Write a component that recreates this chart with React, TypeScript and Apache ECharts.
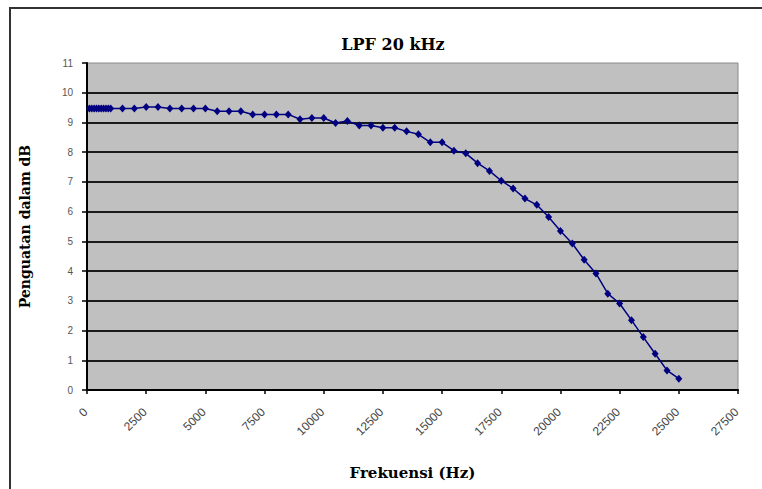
import React, { useEffect, useRef } from "react";
import * as echarts from "echarts";

const titleText = "LPF 20 kHz";
const xAxisName = "Frekuensi (Hz)";
const yAxisName = "Penguatan dalam dB";

const freqHz = [
  100, 200, 300, 400, 500, 600, 700, 800, 900, 1000,
  1500, 2000, 2500, 3000, 3500, 4000, 4500, 5000, 5500, 6000,
  6500, 7000, 7500, 8000, 8500, 9000, 9500, 10000, 10500, 11000,
  11500, 12000, 12500, 13000, 13500, 14000, 14500, 15000, 15500, 16000,
  16500, 17000, 17500, 18000, 18500, 19000, 19500, 20000, 20500, 21000,
  21500, 22000, 22500, 23000, 23500, 24000, 24500, 25000,
];

const gainDb = [
  9.47, 9.47, 9.47, 9.47, 9.47, 9.47, 9.47, 9.47, 9.47, 9.47,
  9.47, 9.47, 9.52, 9.52, 9.47, 9.47, 9.47, 9.47, 9.38, 9.38,
  9.38, 9.27, 9.27, 9.27, 9.27, 9.11, 9.15, 9.15, 8.98, 9.05,
  8.9, 8.9, 8.82, 8.82, 8.7, 8.6, 8.33, 8.33, 8.05, 7.96,
  7.63, 7.37, 7.04, 6.78, 6.44, 6.23, 5.82, 5.35, 4.93, 4.38,
  3.92, 3.24, 2.91, 2.35, 1.78, 1.22, 0.66, 0.38,
];

const xMin = 0;
const xMax = 27500;
const xStep = 2500;
const yMin = 0;
const yMax = 11;
const yStep = 1;

export default function App() {
  const ref = useRef<HTMLDivElement>(null);

  useEffect(() => {
    if (!ref.current) return;
    const chart = echarts.init(ref.current, null, { renderer: "svg" });
    const splitColors: string[] = [];
    for (let v = yMin; v <= yMax; v += yStep) {
      splitColors.push(v === yMax ? "rgba(0,0,0,0)" : "#1a1a1a");
    }
    chart.setOption({
      animation: false,
      backgroundColor: "#ffffff",
      title: {
        text: titleText,
        left: 388,
        top: 31,
        textAlign: "center",
        textStyle: {
          fontFamily: "DejaVu Serif",
          fontWeight: "bold",
          fontSize: 16,
          color: "#000",
        },
      },
      graphic: [
        {
          type: "polyline",
          silent: true,
          shape: { points: [[10, 489], [10, 8], [762, 8]] },
          style: { stroke: "#333", lineWidth: 2, fill: "none" },
        },
      ],
      grid: {
        left: 87,
        right: 24,
        top: 63,
        bottom: 99,
        show: true,
        backgroundColor: "#c0c0c0",
        borderColor: "#8a8a8a",
        borderWidth: 1,
      },
      xAxis: {
        type: "value",
        min: xMin,
        max: xMax,
        interval: xStep,
        name: xAxisName,
        nameLocation: "middle",
        nameGap: 75,
        nameTextStyle: {
          fontFamily: "DejaVu Serif",
          fontWeight: "bold",
          fontSize: 15,
          color: "#000",
        },
        axisLine: { show: true, onZero: false, lineStyle: { color: "#000", width: 2 } },
        axisTick: { show: true, length: 4, lineStyle: { color: "#000", width: 1.5 } },
        splitLine: { show: false },
        axisLabel: {
          rotate: 45,
          margin: 10,
          padding: [0, 8, 0, 0],
          verticalAlign: "top",
          formatter: (v: number) => String(v),
          fontFamily: "Arial, Liberation Sans",
          fontSize: 12,
          color: "#444",
        },
      },
      yAxis: {
        type: "value",
        min: yMin,
        max: yMax,
        interval: yStep,
        name: yAxisName,
        nameLocation: "middle",
        nameGap: 55,
        nameTextStyle: {
          fontFamily: "DejaVu Serif",
          fontWeight: "bold",
          fontSize: 14,
          color: "#000",
        },
        axisLine: { show: true, lineStyle: { color: "#000", width: 2 } },
        axisTick: { show: true, length: 5, lineStyle: { color: "#000", width: 1.5 } },
        splitLine: { show: true, lineStyle: { color: splitColors, width: 2 } },
        axisLabel: {
          margin: 14,
          fontFamily: "Arial, Liberation Sans",
          fontSize: 10,
          color: "#555",
        },
      },
      series: [
        {
          type: "line",
          data: freqHz.map((f, i) => [f, gainDb[i]]),
          symbol: "diamond",
          symbolSize: [7, 8],
          showSymbol: true,
          lineStyle: { color: "#000080", width: 1.5 },
          itemStyle: { color: "#000080" },
        },
      ],
    });
    return () => chart.dispose();
  }, []);

  return (
    <div
      ref={ref}
      style={{ position: "absolute", left: 0, top: 0, width: 762, height: 489 }}
    />
  );
}
